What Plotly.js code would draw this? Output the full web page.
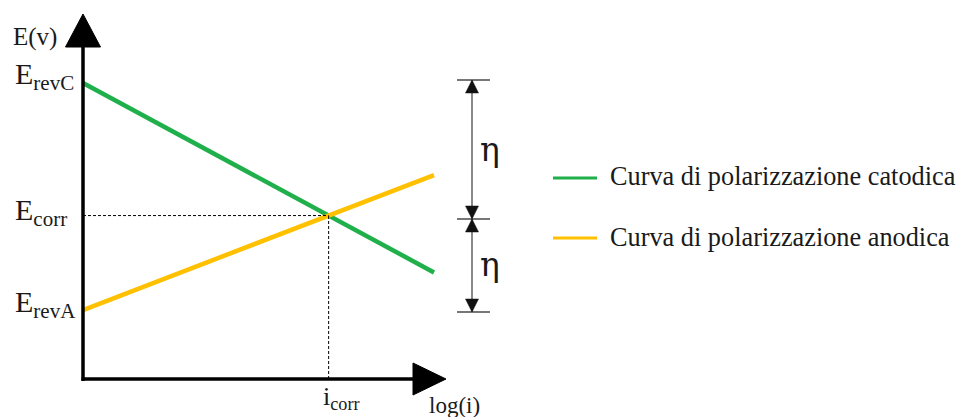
<!DOCTYPE html>
<html>
<head>
<meta charset="utf-8">
<script src="https://cdn.plot.ly/plotly-3.0.1.min.js"></script>
<style>
  html, body { margin: 0; padding: 0; background: #ffffff; }
  #chart { width: 964px; height: 417px; }
</style>
</head>
<body>
<div id="chart"></div>
<script>
// ---- data (abstract units: log(i) on x, E on y) ----
const seriesNames = ["Curva di polarizzazione catodica", "Curva di polarizzazione anodica"];
const seriesColors = ["#1fb04b", "#ffc000"];
const logI = [0, 10];
const cathodicE = [10, 3.6];
const anodicE = [2.33, 6.89];
const axisLabels = { y: "E(v)", x: "log(i)" };
const levelLabels = ["E<sub>revC</sub>", "E<sub>corr</sub>", "E<sub>revA</sub>"];
const icorrLabel = "i<sub>corr</sub>";
const etaLabel = "η";

// intersection of the two straight lines (corrosion point)
const mC = (cathodicE[1] - cathodicE[0]) / (logI[1] - logI[0]);
const mA = (anodicE[1] - anodicE[0]) / (logI[1] - logI[0]);
const icorr = logI[0] + (anodicE[0] - cathodicE[0]) / (mC - mA);
const Ecorr = cathodicE[0] + mC * (icorr - logI[0]);

// ---- pixel helpers for the figure layout ----
const W = 964, H = 417;
const X0 = 83, KX = 35.1, Y0 = 379, KY = 29.6;
const dx = p => (p - X0) / KX;
const dy = p => (Y0 - p) / KY;

const FONT = "Liberation Serif, Times New Roman, serif";
const ETA_FONT = "DejaVu Serif, serif";

const traces = [
  { x: logI, y: cathodicE, mode: "lines", name: seriesNames[0],
    line: { color: seriesColors[0], width: 4.5 }, hoverinfo: "skip" },
  { x: logI, y: anodicE, mode: "lines", name: seriesNames[1],
    line: { color: seriesColors[1], width: 4.5 }, hoverinfo: "skip" }
];

const shapes = [];
// axes
shapes.push({ type: "line", x0: 0, x1: 0, y0: dy(381), y1: dy(44), line: { color: "#000", width: 3.5 } });
shapes.push({ type: "line", x0: dx(81.5), x1: dx(416), y0: 0, y1: 0, line: { color: "#000", width: 3.5 } });
// arrow heads
shapes.push({ type: "path", fillcolor: "#000", line: { color: "#000", width: 1 },
  path: `M ${dx(65.5)} ${dy(47)} L ${dx(100.5)} ${dy(47)} L ${dx(83)} ${dy(14)} Z` });
shapes.push({ type: "path", fillcolor: "#000", line: { color: "#000", width: 1 },
  path: `M ${dx(413)} ${dy(363)} L ${dx(413)} ${dy(395)} L ${dx(446)} ${dy(379)} Z` });
// dashed guides to the corrosion point
shapes.push({ type: "line", x0: 0, x1: icorr, y0: Ecorr, y1: Ecorr, line: { color: "#000", width: 1, dash: "3px,2px" } });
shapes.push({ type: "line", x0: icorr, x1: icorr, y0: 0, y1: Ecorr, line: { color: "#000", width: 1, dash: "3px,2px" } });

// eta dimension arrows
const dimX = 472, dimTop = 80, dimMid = 219, dimBot = 312;
const gray = "#4a4a4a";
shapes.push({ type: "line", x0: dx(dimX), x1: dx(dimX), y0: dy(dimTop), y1: dy(dimBot), line: { color: gray, width: 1.3 } });
[dimTop, dimMid, dimBot].forEach(v => {
  shapes.push({ type: "line", x0: dx(457), x1: dx(490), y0: dy(v), y1: dy(v), line: { color: gray, width: 1.3 } });
});
function head(apexY, dir) { // dir: +1 base below apex, -1 base above
  const b = apexY + dir * 13;
  return { type: "path", fillcolor: "#111", line: { color: "#111", width: 0.5 },
    path: `M ${dx(dimX - 6.5)} ${dy(b)} L ${dx(dimX + 6.5)} ${dy(b)} L ${dx(dimX)} ${dy(apexY)} Z` };
}
shapes.push(head(dimTop, 1));
shapes.push(head(dimMid, -1));
shapes.push(head(dimMid, 1));
shapes.push(head(dimBot, -1));

// legend samples
shapes.push({ type: "line", x0: dx(553), x1: dx(597), y0: dy(178), y1: dy(178), line: { color: seriesColors[0], width: 3 } });
shapes.push({ type: "line", x0: dx(553), x1: dx(597), y0: dy(238), y1: dy(238), line: { color: seriesColors[1], width: 3 } });

function txt(text, px, py, size, xanchor, family) {
  return { text: text, x: dx(px), y: dy(py), xref: "x", yref: "y", showarrow: false,
    xanchor: xanchor || "left", yanchor: "middle",
    font: { family: family || FONT, size: size, color: "#1a1a1a" } };
}

const annotations = [
  txt(axisLabels.y, 11, 37, 25),
  txt(levelLabels[0], 13, 76, 30),
  txt(levelLabels[1], 13, 212, 30),
  txt(levelLabels[2], 13, 304, 30),
  txt(icorrLabel, 321, 398, 26),
  txt(axisLabels.x, 427, 405, 23),
  txt(etaLabel, 490, 149, 33, "center", ETA_FONT),
  txt(etaLabel, 490, 264, 33, "center", ETA_FONT),
  txt(seriesNames[0], 608, 176, 26.3),
  txt(seriesNames[1], 608, 237, 26.3)
];

const layout = {
  width: W, height: H,
  margin: { l: 0, r: 0, t: 0, b: 0, pad: 0 },
  paper_bgcolor: "#ffffff", plot_bgcolor: "#ffffff",
  showlegend: false,
  xaxis: { range: [dx(0), dx(W)], visible: false, fixedrange: true },
  yaxis: { range: [dy(H), dy(0)], visible: false, fixedrange: true },
  shapes: shapes,
  annotations: annotations
};

Plotly.newPlot("chart", traces, layout, { staticPlot: true, displayModeBar: false });
</script>
</body>
</html>
